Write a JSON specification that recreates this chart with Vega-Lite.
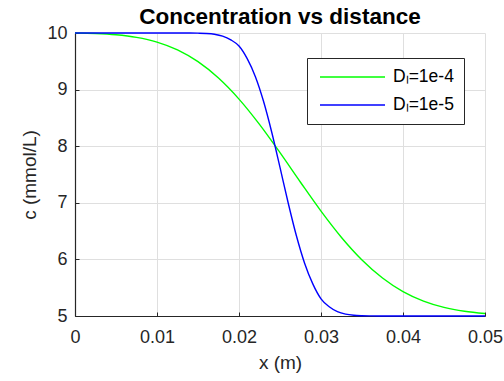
{
  "$schema": "https://vega.github.io/schema/vega-lite/v6.json",
  "width": 410,
  "height": 283,
  "autosize": {"type": "none"},
  "padding": {"left": 75, "top": 33, "right": 19, "bottom": 65},
  "background": "white",
  "title": {
    "text": "Concentration vs distance",
    "font": "Liberation Sans",
    "fontSize": 22.5,
    "fontWeight": "bold",
    "color": "black",
    "anchor": "middle",
    "offset": -4
  },
  "data": {
    "values": [
      {"x": 0, "c": 10, "series": "Dₗ=1e-4"},
      {"x": 0.0025, "c": 9.991, "series": "Dₗ=1e-4"},
      {"x": 0.005, "c": 9.968, "series": "Dₗ=1e-4"},
      {"x": 0.0075, "c": 9.922, "series": "Dₗ=1e-4"},
      {"x": 0.01, "c": 9.839, "series": "Dₗ=1e-4"},
      {"x": 0.0125, "c": 9.701, "series": "Dₗ=1e-4"},
      {"x": 0.015, "c": 9.493, "series": "Dₗ=1e-4"},
      {"x": 0.0175, "c": 9.204, "series": "Dₗ=1e-4"},
      {"x": 0.02, "c": 8.832, "series": "Dₗ=1e-4"},
      {"x": 0.0225, "c": 8.385, "series": "Dₗ=1e-4"},
      {"x": 0.025, "c": 7.885, "series": "Dₗ=1e-4"},
      {"x": 0.0275, "c": 7.363, "series": "Dₗ=1e-4"},
      {"x": 0.03, "c": 6.853, "series": "Dₗ=1e-4"},
      {"x": 0.0325, "c": 6.388, "series": "Dₗ=1e-4"},
      {"x": 0.035, "c": 5.99, "series": "Dₗ=1e-4"},
      {"x": 0.0375, "c": 5.671, "series": "Dₗ=1e-4"},
      {"x": 0.04, "c": 5.431, "series": "Dₗ=1e-4"},
      {"x": 0.0425, "c": 5.263, "series": "Dₗ=1e-4"},
      {"x": 0.045, "c": 5.152, "series": "Dₗ=1e-4"},
      {"x": 0.0475, "c": 5.083, "series": "Dₗ=1e-4"},
      {"x": 0.05, "c": 5.043, "series": "Dₗ=1e-4"},
      {"x": 0, "c": 10, "series": "Dₗ=1e-5"},
      {"x": 0.005, "c": 10, "series": "Dₗ=1e-5"},
      {"x": 0.01, "c": 10, "series": "Dₗ=1e-5"},
      {"x": 0.012, "c": 10, "series": "Dₗ=1e-5"},
      {"x": 0.014, "c": 9.999, "series": "Dₗ=1e-5"},
      {"x": 0.015, "c": 9.997, "series": "Dₗ=1e-5"},
      {"x": 0.016, "c": 9.992, "series": "Dₗ=1e-5"},
      {"x": 0.017, "c": 9.978, "series": "Dₗ=1e-5"},
      {"x": 0.018, "c": 9.945, "series": "Dₗ=1e-5"},
      {"x": 0.019, "c": 9.879, "series": "Dₗ=1e-5"},
      {"x": 0.02, "c": 9.77, "series": "Dₗ=1e-5"},
      {"x": 0.021, "c": 9.547, "series": "Dₗ=1e-5"},
      {"x": 0.022, "c": 9.228, "series": "Dₗ=1e-5"},
      {"x": 0.023, "c": 8.789, "series": "Dₗ=1e-5"},
      {"x": 0.024, "c": 8.242, "series": "Dₗ=1e-5"},
      {"x": 0.025, "c": 7.626, "series": "Dₗ=1e-5"},
      {"x": 0.026, "c": 6.997, "series": "Dₗ=1e-5"},
      {"x": 0.027, "c": 6.417, "series": "Dₗ=1e-5"},
      {"x": 0.028, "c": 5.933, "series": "Dₗ=1e-5"},
      {"x": 0.029, "c": 5.567, "series": "Dₗ=1e-5"},
      {"x": 0.03, "c": 5.303, "series": "Dₗ=1e-5"},
      {"x": 0.031, "c": 5.163, "series": "Dₗ=1e-5"},
      {"x": 0.032, "c": 5.077, "series": "Dₗ=1e-5"},
      {"x": 0.033, "c": 5.033, "series": "Dₗ=1e-5"},
      {"x": 0.034, "c": 5.013, "series": "Dₗ=1e-5"},
      {"x": 0.035, "c": 5.005, "series": "Dₗ=1e-5"},
      {"x": 0.036, "c": 5.002, "series": "Dₗ=1e-5"},
      {"x": 0.038, "c": 5, "series": "Dₗ=1e-5"},
      {"x": 0.04, "c": 5, "series": "Dₗ=1e-5"},
      {"x": 0.045, "c": 5, "series": "Dₗ=1e-5"},
      {"x": 0.05, "c": 5, "series": "Dₗ=1e-5"}
    ]
  },
  "mark": {"type": "line", "interpolate": "monotone", "strokeWidth": 1.4},
  "encoding": {
    "x": {
      "field": "x",
      "type": "quantitative",
      "scale": {"domain": [0, 0.05], "nice": false, "zero": false},
      "axis": {
        "title": "x (m)",
        "values": [0, 0.01, 0.02, 0.03, 0.04, 0.05],
        "labelExpr": "datum.value == 0 ? '0' : format(datum.value, '.2f')",
        "labelPadding": 16,
        "titlePadding": 7
      }
    },
    "y": {
      "field": "c",
      "type": "quantitative",
      "scale": {"domain": [5, 10], "nice": false, "zero": false},
      "axis": {
        "title": "c (mmol/L)",
        "values": [5, 6, 7, 8, 9, 10],
        "format": "d",
        "labelPadding": 12,
        "titlePadding": 7
      }
    },
    "color": {
      "field": "series",
      "type": "nominal",
      "scale": {"domain": ["Dₗ=1e-4", "Dₗ=1e-5"], "range": ["#00ff00", "#0000ff"]},
      "legend": {
        "title": null,
        "orient": "none",
        "legendX": 232,
        "legendY": 25,
        "symbolType": "stroke",
        "symbolSize": 4225,
        "symbolStrokeWidth": 1.5,
        "symbolOffset": 2,
        "clipHeight": 18,
        "rowPadding": 10,
        "padding": 10,
        "labelOffset": 7,
        "labelFont": "Liberation Sans",
        "labelFontSize": 17.5,
        "labelColor": "black",
        "strokeColor": "#262626",
        "fillColor": "white",
        "labelLimit": 0
      }
    }
  },
  "config": {
    "view": {"stroke": null},
    "axis": {
      "labelFont": "Liberation Sans",
      "labelFontSize": 18,
      "labelColor": "#262626",
      "titleFont": "Liberation Sans",
      "titleFontSize": 19,
      "titleFontWeight": "normal",
      "titleColor": "#262626",
      "domainColor": "#262626",
      "domainWidth": 1.2,
      "tickColor": "#262626",
      "tickSize": -4,
      "tickWidth": 1,
      "grid": true,
      "gridColor": "#dfdfdf",
      "gridWidth": 1,
      "labelOverlap": false,
      "labelFlush": false
    }
  }
}
